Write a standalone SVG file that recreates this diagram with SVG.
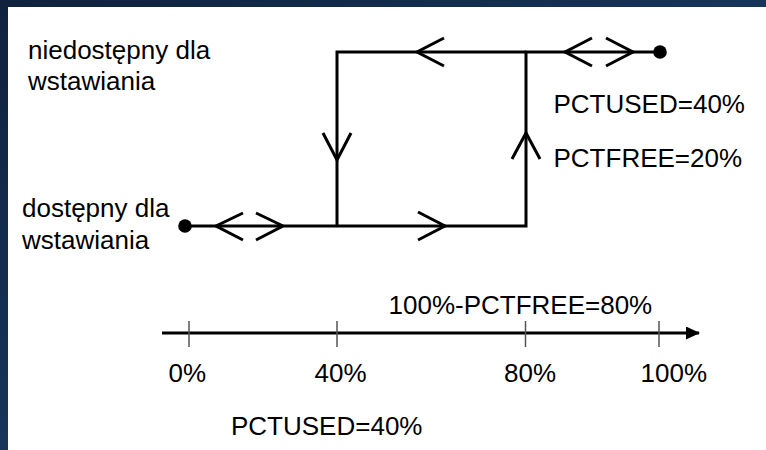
<svg xmlns="http://www.w3.org/2000/svg" width="766" height="450" viewBox="0 0 766 450">
  <defs>
    <linearGradient id="bg" x1="0" y1="0" x2="1" y2="1">
      <stop offset="0" stop-color="#10223d"/>
      <stop offset="0.5" stop-color="#17345a"/>
      <stop offset="1" stop-color="#0f2542"/>
    </linearGradient>
    <marker id="axisHead" viewBox="0 0 14 13" refX="13" refY="6.5" markerWidth="14" markerHeight="13" markerUnits="userSpaceOnUse" orient="auto">
      <path d="M0,0 L14,6.5 L0,13 Z" fill="#000"/>
    </marker>
  </defs>
  <style>
    .wire { fill: none; stroke: #000; stroke-width: 3; stroke-linecap: butt; stroke-linejoin: miter; }
    .chev { fill: none; stroke: #000; stroke-width: 3; stroke-linecap: butt; stroke-linejoin: miter; }
    .tick { stroke: #555; stroke-width: 1.5; }
    .dot { fill: #000; }
    text { font-family: "Liberation Sans", Arial, sans-serif; font-size: 26px; fill: #000; }
  </style>

  <!-- backdrop and white page -->
  <rect x="0" y="0" width="766" height="450" fill="url(#bg)"/>
  <rect x="8" y="7" width="758" height="443" fill="#fff"/>

  <!-- state paths -->
  <g id="connectors">
    <path class="wire" d="M185,226 H526 V52 H660"/>
    <path class="wire" d="M337,226 V52 H526"/>
    <!-- direction marks -->
    <path class="chev" d="M243,213 L216,226 L243,240"/>
    <path class="chev" d="M256,213 L283,226 L256,240"/>
    <path class="chev" d="M418,212 L445,226 L418,240"/>
    <path class="chev" d="M512,159 L526,133 L540,159"/>
    <path class="chev" d="M444,38 L417,52 L444,66"/>
    <path class="chev" d="M323,133 L337,160 L351,133"/>
    <path class="chev" d="M592,38 L565,52 L592,66"/>
    <path class="chev" d="M606,38 L633,52 L606,66"/>
  </g>

  <g id="start-dot">
    <circle class="dot" cx="185" cy="226" r="6.8"/>
  </g>
  <g id="end-dot">
    <circle class="dot" cx="660" cy="52" r="6.8"/>
  </g>

  <g id="label-unavailable">
    <text x="28" y="59">niedostępny dla</text>
    <text x="28" y="90">wstawiania</text>
  </g>
  <g id="label-available">
    <text x="22" y="216.5">dostępny dla</text>
    <text x="22" y="248.5">wstawiania</text>
  </g>
  <g id="label-thresholds">
    <text x="553.5" y="112.5">PCTUSED=40%</text>
    <text x="553.5" y="166.5">PCTFREE=20%</text>
  </g>

  <!-- percentage axis -->
  <g id="axis">
    <line class="wire" x1="162" y1="333" x2="699" y2="333" marker-end="url(#axisHead)"/>
    <line class="tick" x1="189" y1="321" x2="189" y2="347"/>
    <line class="tick" x1="337" y1="321" x2="337" y2="347"/>
    <line class="tick" x1="525.5" y1="321" x2="525.5" y2="347"/>
    <line class="tick" x1="659" y1="321" x2="659" y2="347"/>
    <text x="388.5" y="314">100%-PCTFREE=80%</text>
    <text x="168.5" y="381.5">0%</text>
    <text x="314.5" y="381.5">40%</text>
    <text x="504" y="381.5">80%</text>
    <text x="640.5" y="381.5">100%</text>
    <text x="231" y="435">PCTUSED=40%</text>
  </g>
</svg>
